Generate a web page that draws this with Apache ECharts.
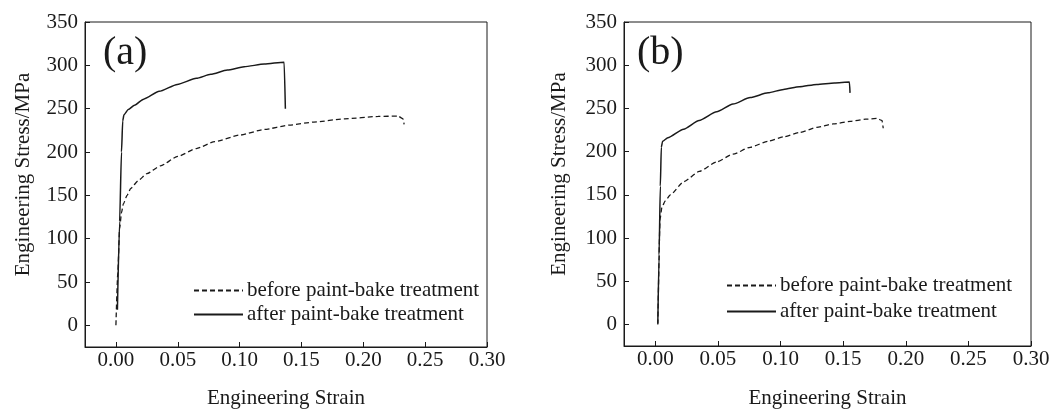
<!DOCTYPE html>
<html>
<head>
<meta charset="utf-8">
<script src="https://cdn.jsdelivr.net/npm/echarts@6/dist/echarts.min.js"></script>
<style>
  html, body { margin: 0; padding: 0; background: #fff; }
  #chart { width: 1060px; height: 414px; }
</style>
</head>
<body>
<div id="chart"></div>
<script>
// panel (a)
const strainBeforeA = [0.0, 0.0015, 0.003, 0.0045, 0.006, 0.009, 0.012, 0.018, 0.025, 0.036, 0.050, 0.065, 0.080, 0.100, 0.120, 0.140, 0.160, 0.185, 0.212, 0.228, 0.232, 0.233]
const stressBeforeA = [0, 60, 112, 130, 140, 150, 158, 167, 175, 184, 195, 204, 212, 219.5, 226, 231, 234.5, 238.3, 241, 241.5, 238.5, 232]
const strainAfterA = [0.0012, 0.003, 0.0045, 0.0055, 0.0065, 0.010, 0.015, 0.0224, 0.035, 0.0496, 0.065, 0.0767, 0.090, 0.1037, 0.120, 0.136, 0.137]
const stressAfterA = [18, 120, 200, 236, 243, 249, 254, 261, 270, 278, 285, 289.6, 294.5, 298.4, 301.5, 303.7, 250]

// panel (b)
const strainBeforeB = [0.002, 0.0038, 0.0053, 0.008, 0.012, 0.0226, 0.035, 0.049, 0.062, 0.0758, 0.090, 0.1024, 0.115, 0.129, 0.142, 0.1556, 0.168, 0.177, 0.181, 0.182]
const stressBeforeB = [0, 122, 136, 143, 150, 165, 177, 188, 197, 205, 212, 217, 222, 228, 232, 235, 237.5, 238.4, 236, 227]
const strainAfterB = [0.002, 0.003, 0.004, 0.0048, 0.0058, 0.010, 0.0226, 0.035, 0.049, 0.062, 0.0758, 0.090, 0.1024, 0.115, 0.129, 0.143, 0.155, 0.1555]
const stressAfterB = [1, 80, 160, 205, 212, 216, 226, 236, 246, 255, 262.5, 268, 272, 275, 277.8, 279.5, 280.5, 268]

const seriesNames = ['before paint-bake treatment', 'after paint-bake treatment']
const panelLabels = ['(a)', '(b)']
const xTitle = 'Engineering Strain'
const yTitle = 'Engineering Stress/MPa'

const font = "'Liberation Serif', 'Times New Roman', serif"
const ink = '#1a1a1a'
const zip = (xs, ys) => xs.map((x, i) => [x, ys[i]])

const grids = [
  { left: 85, top: 22, width: 402, height: 329 },
  { left: 624, top: 22, width: 407, height: 327 },
]

function xAxisFor(gridIndex) {
  return {
    type: 'value', gridIndex, min: -0.025, max: 0.30, splitNumber: 6,
    name: xTitle, nameLocation: 'middle', nameGap: gridIndex ? 42 : 41,
    nameTextStyle: { fontFamily: font, fontSize: 21, color: ink },
    axisLine: { onZero: false, lineStyle: { color: ink, width: 1 } },
    axisTick: { inside: true, length: 5, lineStyle: { color: ink } },
    axisLabel: {
      fontFamily: font, fontSize: 21, color: ink, margin: 3,
      formatter: (v) => (v < -1e-9 ? '' : v.toFixed(2)),
    },
    splitLine: { show: false },
  }
}

function yAxisFor(gridIndex) {
  return {
    type: 'value', gridIndex, min: -25, max: 350, splitNumber: 7,
    name: yTitle, nameLocation: 'middle', nameGap: gridIndex ? 54 : 51,
    nameTextStyle: { fontFamily: font, fontSize: 21, color: ink, padding: [0, 0, 0, 20] },
    axisLine: { onZero: false, lineStyle: { color: ink, width: 1 } },
    axisTick: { inside: true, length: 5, lineStyle: { color: ink } },
    axisLabel: {
      fontFamily: font, fontSize: 21, color: ink, margin: 7,
      formatter: (v) => (v < 0 ? '' : String(v)),
    },
    splitLine: { show: false },
  }
}

function line(name, data, i, dashed) {
  return {
    name, type: 'line', xAxisIndex: i, yAxisIndex: i, data,
    symbol: 'none', showSymbol: false, smooth: 0.2, smoothMonotone: 'x', z: dashed ? 2 : 3,
    lineStyle: { color: ink, width: dashed ? 1.3 : 1.5, type: dashed ? [5, 3] : 'solid' },
    itemStyle: { color: ink },
    emphasis: { disabled: true },
  }
}

function legendAt(left, top, gap) {
  return {
    left, top, orient: 'vertical', padding: 0, itemGap: gap,
    itemWidth: 49, itemHeight: 14, selectedMode: false, data: seriesNames,
    itemStyle: { opacity: 0 },
    textStyle: { fontFamily: font, fontSize: 21, color: ink, padding: [0, 0, 0, -1] },
  }
}

const chart = echarts.init(document.getElementById('chart'), null, { renderer: 'canvas' })
chart.setOption({
  backgroundColor: '#fff',
  animation: false,
  title: [
    { text: panelLabels[0], left: 98, top: 28, textStyle: { fontFamily: font, fontSize: 40, fontWeight: 'normal', color: ink } },
    { text: panelLabels[1], left: 632, top: 28, textStyle: { fontFamily: font, fontSize: 40, fontWeight: 'normal', color: ink } },
  ],
  grid: grids.map((g) => ({ ...g, show: true, borderColor: ink, borderWidth: 1, containLabel: false })),
  xAxis: [xAxisFor(0), xAxisFor(1)],
  yAxis: [yAxisFor(0), yAxisFor(1)],
  legend: [legendAt(193, 280, 3), legendAt(726, 275, 5)],
  series: [
    line(seriesNames[0], zip(strainBeforeA, stressBeforeA), 0, true),
    line(seriesNames[1], zip(strainAfterA, stressAfterA), 0, false),
    line(seriesNames[0], zip(strainBeforeB, stressBeforeB), 1, true),
    line(seriesNames[1], zip(strainAfterB, stressAfterB), 1, false),
  ],
})
</script>
</body>
</html>
